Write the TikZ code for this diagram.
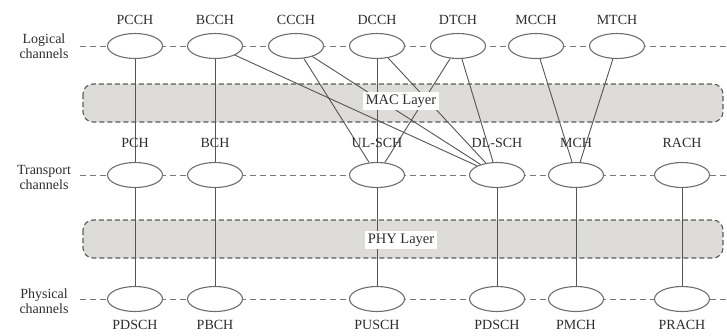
\documentclass[tikz,border=0pt]{standalone}
\usepackage{fontspec}
\setmainfont{Liberation Serif}
\usetikzlibrary{shapes.geometric}
\definecolor{chgray}{RGB}{110,110,110}
\definecolor{txtgray}{RGB}{45,45,45}
\definecolor{rowgray}{RGB}{120,120,120}
\definecolor{boxedge}{RGB}{90,90,90}
\definecolor{boxfill}{RGB}{222,220,217}
\definecolor{linkgray}{RGB}{85,85,85}
\begin{document}
\begin{tikzpicture}[x=1pt,y=-1pt,
  ch/.style={ellipse,draw=chgray,line width=1.1pt,fill=white,minimum width=55pt,minimum height=25pt,inner sep=0pt},
  lbl/.style={font=\fontsize{14}{16}\selectfont,text=txtgray,inner sep=0pt},
  side/.style={font=\fontsize{14}{15}\selectfont,align=center,text=txtgray,inner sep=0pt},
  rowline/.style={draw=rowgray,dash pattern=on 6pt off 4pt,line width=1pt},
  layer/.style={draw=boxedge,dash pattern=on 5pt off 3pt,line width=1.1pt,fill=boxfill,rounded corners=10pt},
  link/.style={draw=linkgray,line width=0.9pt},
  laylbl/.style={fill=white,inner sep=3pt,font=\fontsize{14.5}{16}\selectfont,text=txtgray}]
\useasboundingbox (0,0) rectangle (727,335);
% side labels
\node[side] (sl) at (44,46) {Logical\\channels};
\node[side] (st) at (44,177) {Transport\\channels};
\node[side] (sp) at (44,301) {Physical\\channels};
% row dashed lines
\coordinate (l0) at (80,46);  \coordinate (l1) at (727,46);
\coordinate (t0) at (80,175); \coordinate (t1) at (727,175);
\coordinate (p0) at (80,299); \coordinate (p1) at (727,299);
\draw[rowline] (l0) -- (l1);
\draw[rowline] (t0) -- (t1);
\draw[rowline] (p0) -- (p1);
% layer boxes
\path[layer] (83,84) rectangle (723,122);
\path[layer] (83,220) rectangle (723,258);
% logical channels
\node[ch] (pcch) at (135,46) {};
\node[ch] (bcch) at (215,46) {};
\node[ch] (ccch) at (296,46) {};
\node[ch] (dcch) at (377,46) {};
\node[ch] (dtch) at (458,46) {};
\node[ch] (mcch) at (536,46) {};
\node[ch] (mtch) at (617,46) {};
% transport channels
\node[ch] (pch) at (135,175) {};
\node[ch] (bch) at (215,175) {};
\node[ch] (ulsch) at (377,175) {};
\node[ch] (dlsch) at (497,175) {};
\node[ch] (mch) at (576,175) {};
\node[ch] (rach) at (682,175) {};
% physical channels
\node[ch] (pdsch1) at (135,299) {};
\node[ch] (pbch) at (215,299) {};
\node[ch] (pusch) at (377,299) {};
\node[ch] (pdsch2) at (497,299) {};
\node[ch] (pmch) at (576,299) {};
\node[ch] (prach) at (682,299) {};
% links logical -> transport
\draw[link] (pcch) -- (pch);
\draw[link] (bcch) -- (bch);
\draw[link] (bcch) -- (dlsch);
\draw[link] (ccch) -- (ulsch);
\draw[link] (ccch) -- (dlsch);
\draw[link] (dcch) -- (ulsch);
\draw[link] (dcch) -- (dlsch);
\draw[link] (dtch) -- (ulsch);
\draw[link] (dtch) -- (dlsch);
\draw[link] (mcch) -- (mch);
\draw[link] (mtch) -- (mch);
% links transport -> physical
\draw[link] (pch) -- (pdsch1);
\draw[link] (bch) -- (pbch);
\draw[link] (ulsch) -- (pusch);
\draw[link] (dlsch) -- (pdsch2);
\draw[link] (mch) -- (pmch);
\draw[link] (rach) -- (prach);
% layer labels
\node[laylbl] (mac) at (401,101) {MAC Layer};
\node[laylbl] (phy) at (401,240) {PHY Layer};
% channel labels
\node[lbl] (lpcch) at (135,20) {PCCH};
\node[lbl] (lbcch) at (215,20) {BCCH};
\node[lbl] (lccch) at (296,20) {CCCH};
\node[lbl] (ldcch) at (377,20) {DCCH};
\node[lbl] (ldtch) at (458,20) {DTCH};
\node[lbl] (lmcch) at (536,20) {MCCH};
\node[lbl] (lmtch) at (617,20) {MTCH};
\node[lbl] (lpch) at (135,143) {PCH};
\node[lbl] (lbch) at (215,143) {BCH};
\node[lbl] (lulsch) at (377,143) {UL-SCH};
\node[lbl] (ldlsch) at (497,143) {DL-SCH};
\node[lbl] (lmch) at (576,143) {MCH};
\node[lbl] (lrach) at (682,143) {RACH};
\node[lbl] (lpdsch1) at (135,325) {PDSCH};
\node[lbl] (lpbch) at (215,325) {PBCH};
\node[lbl] (lpusch) at (377,325) {PUSCH};
\node[lbl] (lpdsch2) at (497,325) {PDSCH};
\node[lbl] (lpmch) at (576,325) {PMCH};
\node[lbl] (lprach) at (682,325) {PRACH};
\end{tikzpicture}
\end{document}
